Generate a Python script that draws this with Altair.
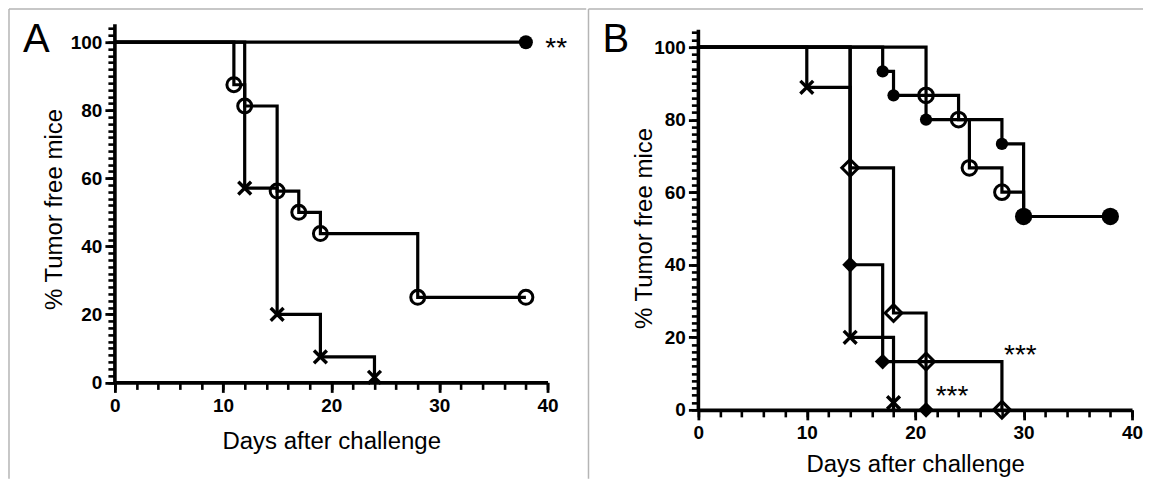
import altair as alt
import pandas as pd

FONT = "Liberation Sans"

# ---------------- Panel A data ----------------
A_FILLED_DAYS = [0, 38]
A_FILLED_PCT = [100, 100]
A_OPEN_DAYS = [0, 11, 12, 15, 17, 19, 28, 38]
A_OPEN_PCT = [100, 87.5, 81.25, 56.25, 50, 43.75, 25, 25]
A_CROSS_DAYS = [0, 12, 15, 19, 24]
A_CROSS_PCT = [100, 57.1, 20, 7.5, 0]

A_FILLED_MARK_DAYS = [38]
A_FILLED_MARK_PCT = [100]
A_OPEN_MARK_DAYS = [11, 12, 15, 17, 19, 28, 38]
A_OPEN_MARK_PCT = [87.5, 81.25, 56.25, 50, 43.75, 25, 25]
A_CROSS_MARK_DAYS = [12, 15, 19, 24]
A_CROSS_MARK_PCT = [57.1, 20, 7.5, 1.5]

A_STAR_DAYS = [40.8]
A_STAR_PCT = [100]
A_STAR_TEXT = ["**"]

# ---------------- Panel B data ----------------
B_CROSS_DAYS = [0, 10, 14, 18]
B_CROSS_PCT = [100, 88.9, 20, 0]
B_FDIAM_DAYS = [0, 14, 17, 21]
B_FDIAM_PCT = [100, 40, 13.3, 0]
B_ODIAM_DAYS = [0, 14, 18, 21, 28]
B_ODIAM_PCT = [100, 66.7, 26.7, 13.3, 0]
B_FCIRC_DAYS = [0, 17, 18, 21, 28, 30, 38]
B_FCIRC_PCT = [100, 93.3, 86.7, 80, 73.3, 53.3, 53.3]
B_OCIRC_DAYS = [0, 21, 24, 25, 28, 30]
B_OCIRC_PCT = [100, 86.7, 80, 66.7, 60, 53.3]

B_CROSS_MARK_DAYS = [10, 14, 18]
B_CROSS_MARK_PCT = [88.9, 20, 2]
B_FDIAM_MARK_DAYS = [14, 17, 21]
B_FDIAM_MARK_PCT = [40, 13.3, 0]
B_ODIAM_MARK_DAYS = [14, 18, 21, 28]
B_ODIAM_MARK_PCT = [66.7, 26.7, 13.3, 0]
B_FCIRC_MARK_DAYS = [17, 18, 21, 28]
B_FCIRC_MARK_PCT = [93.3, 86.7, 80, 73.3]
B_FCIRC_BIG_DAYS = [30, 38]
B_FCIRC_BIG_PCT = [53.3, 53.3]
B_OCIRC_MARK_DAYS = [21, 24, 25, 28]
B_OCIRC_MARK_PCT = [86.7, 80, 66.7, 60]

B_STAR_DAYS = [29.7, 23.4]
B_STAR_PCT = [16.8, 5.5]
B_STAR_TEXT = ["***", "***"]

# axis ticks
X_MAJOR = [0, 10, 20, 30, 40]
Y_MAJOR = [0, 20, 40, 60, 80, 100]
X_MINOR = [0, 2, 4, 6, 8, 10, 12, 14, 16, 18, 20, 22, 24, 26, 28, 30, 32, 34, 36, 38, 40]
Y_MINOR = [0, 2, 4, 6, 8, 10, 12, 14, 16, 18, 20, 22, 24, 26, 28, 30, 32, 34, 36, 38, 40,
           42, 44, 46, 48, 50, 52, 54, 56, 58, 60, 62, 64, 66, 68, 70, 72, 74, 76, 78, 80,
           82, 84, 86, 88, 90, 92, 94, 96, 98, 100, 102, 104]

CROSS = "M-1,-1L1,1M1,-1L-1,1"


def axis_x(pad):
    return alt.Axis(values=X_MAJOR, title="Days after challenge", orient="bottom",
                    tickSize=10, tickWidth=2.8,
                    domainWidth=3.6, domainColor="black", tickColor="black",
                    labelFont=FONT, labelFontSize=19, labelFontWeight="bold", labelColor="black",
                    labelPadding=4, labelFlush=False, labelOverlap=False,
                    titleFont=FONT, titleFontSize=24, titleFontWeight="normal", titleColor="black",
                    titlePadding=pad, grid=False)


def axis_y(tx, ty):
    return alt.Axis(values=Y_MAJOR, title="% Tumor free mice", orient="left",
                    tickSize=10, tickWidth=2.8,
                    domain=False, tickColor="black",
                    labelFont=FONT, labelFontSize=19, labelFontWeight="bold", labelColor="black",
                    labelPadding=3, labelFlush=False, labelOverlap=False,
                    titleFont=FONT, titleFontSize=24, titleFontWeight="normal", titleColor="black",
                    titleX=tx, titleY=ty, titleAngle=270, titleAlign="center", titleBaseline="middle",
                    grid=False)


def minor_axis_x():
    return alt.Axis(values=X_MINOR, title="", labels=False, domain=False, tickSize=7, tickWidth=2.6,
                    tickColor="black", grid=False, orient="bottom")


def minor_axis_y(ytop):
    return alt.Axis(values=[v for v in Y_MINOR if v <= ytop], title="", labels=False, domain=False,
                    tickSize=7, tickWidth=2.6, tickColor="black", grid=False, orient="left")


def panel(series, markers, stars, letter, ymax, ytop, w, h, frame, xpad, tx, ty, lx, ly):
    xs = alt.Scale(domain=[0, 40], nice=False, zero=False)
    ys = alt.Scale(domain=[0, ymax], nice=False, zero=False)
    ax = axis_x(xpad)
    ay = axis_y(tx, ty)

    def X(f, a=None):
        return alt.X(f"{f}:Q", scale=xs, axis=a or ax)

    def Y(f, a=None):
        return alt.Y(f"{f}:Q", scale=ys, axis=a or ay)

    rows = []
    for name, (d, p) in series.items():
        for di, pi in zip(d, p):
            rows.append({"series": name, "day": di, "pct": pi})

    layers = []
    # y axis line (only up to the top of the drawn axis)
    layers.append(
        alt.Chart(pd.DataFrame({"x0": [0], "y0": [0], "y1": [ytop]}))
        .mark_rule(color="black", strokeWidth=3.6)
        .encode(x=X("x0"), y=Y("y0"), y2=alt.Y2("y1"))
    )
    layers.append(
        alt.Chart(pd.DataFrame(rows)).mark_line(interpolate="step-after", color="black", strokeWidth=3.2)
        .encode(x=X("day"), y=Y("pct"), detail="series:N")
    )
    for d, p, shape, filled, size, sw in markers:
        df = pd.DataFrame({"day": d, "pct": p})
        layers.append(
            alt.Chart(df).mark_point(shape=shape, filled=filled, size=size, strokeWidth=sw,
                                     color="black", opacity=1)
            .encode(x=X("day"), y=Y("pct"))
        )
    # significance stars
    sd, sp, st = stars
    layers.append(
        alt.Chart(pd.DataFrame({"day": sd, "pct": sp, "t": st}))
        .mark_text(font=FONT, fontSize=28, baseline="middle", align="center", dy=7, color="black")
        .encode(x=X("day"), y=Y("pct"), text="t:N")
    )
    # panel letter
    layers.append(
        alt.Chart(pd.DataFrame({"t": [letter]}))
        .mark_text(font=FONT, fontSize=40, align="left", baseline="alphabetic", color="black")
        .encode(text="t:N", x=alt.value(lx), y=alt.value(ly))
    )
    # frame
    fx, ftop, fright, fbottom = frame
    fd = pd.DataFrame({"k": [0]})
    layers.append(alt.Chart(fd).mark_rule(color="#b5b5b5", strokeWidth=1.5)
                  .encode(x=alt.value(fx), y=alt.value(ftop), y2=alt.value(fbottom)))
    layers.append(alt.Chart(fd).mark_rule(color="#b5b5b5", strokeWidth=1.5)
                  .encode(x=alt.value(fx), x2=alt.value(fright), y=alt.value(ftop)))
    main = alt.layer(*layers)

    # invisible layer carrying the minor-tick axes
    minor = (
        alt.Chart(pd.DataFrame({"day": [0], "pct": [0]}))
        .mark_point(opacity=0, size=1)
        .encode(x=X("day", minor_axis_x()), y=Y("pct", minor_axis_y(ytop)))
    )
    return (alt.layer(minor, main)
            .resolve_axis(x="independent", y="independent")
            .properties(width=w, height=h))


panel_a = panel(
    {"filled": (A_FILLED_DAYS, A_FILLED_PCT), "open": (A_OPEN_DAYS, A_OPEN_PCT),
     "cross": (A_CROSS_DAYS, A_CROSS_PCT)},
    [
        (A_OPEN_MARK_DAYS, A_OPEN_MARK_PCT, "circle", False, 195, 3),
        (A_CROSS_MARK_DAYS, A_CROSS_MARK_PCT, CROSS, False, 165, 3.4),
        (A_FILLED_MARK_DAYS, A_FILLED_MARK_PCT, "circle", True, 195, 1),
    ],
    (A_STAR_DAYS, A_STAR_PCT, A_STAR_TEXT),
    "A", 105.3, 105.3, 433, 358.5, (-106, -15.25, 471.75, 455), 14, -60, 185, -92, 28,
)

panel_b = panel(
    {"cross": (B_CROSS_DAYS, B_CROSS_PCT), "fdiam": (B_FDIAM_DAYS, B_FDIAM_PCT),
     "odiam": (B_ODIAM_DAYS, B_ODIAM_PCT), "fcirc": (B_FCIRC_DAYS, B_FCIRC_PCT),
     "ocirc": (B_OCIRC_DAYS, B_OCIRC_PCT)},
    [
        (B_CROSS_MARK_DAYS, B_CROSS_MARK_PCT, CROSS, False, 165, 3.4),
        (B_FDIAM_MARK_DAYS, B_FDIAM_MARK_PCT, "diamond", True, 250, 1),
        (B_ODIAM_MARK_DAYS, B_ODIAM_MARK_PCT, "diamond", False, 280, 3),
        (B_FCIRC_MARK_DAYS, B_FCIRC_MARK_PCT, "circle", True, 150, 1),
        (B_FCIRC_BIG_DAYS, B_FCIRC_BIG_PCT, "circle", True, 300, 1),
        (B_OCIRC_MARK_DAYS, B_OCIRC_MARK_PCT, "circle", False, 215, 3),
    ],
    (B_STAR_DAYS, B_STAR_PCT, B_STAR_TEXT),
    "B", 106.3, 104.8, 434, 386, (-110, -15.25, 445, 455), 10, -54, 204, -96, 28,
)

chart = alt.hconcat(panel_a, panel_b, spacing=0, padding=0, bounds="full").configure_view(strokeWidth=0)

chart.save("out.html", embed_options={"renderer": "svg", "actions": False})
